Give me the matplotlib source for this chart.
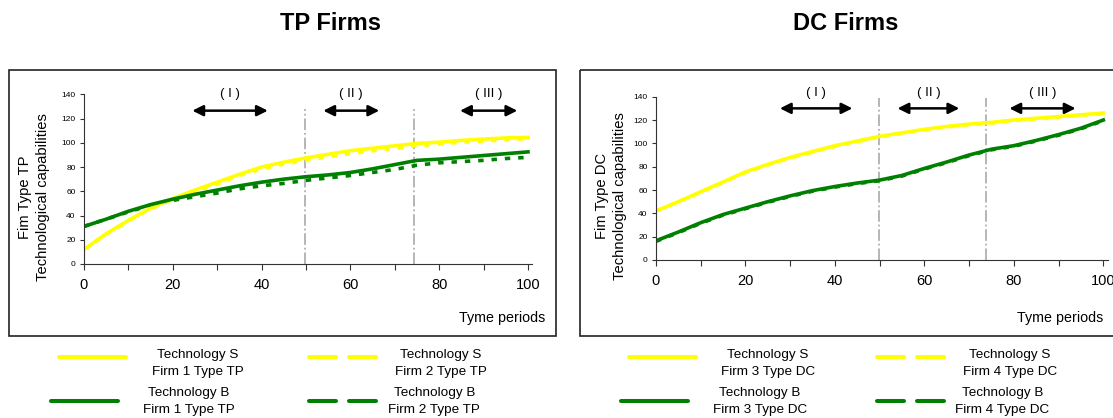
import matplotlib

matplotlib.use("Agg")
import matplotlib.pyplot as plt
from matplotlib.lines import Line2D
from matplotlib.patches import Rectangle

plt.rcParams["font.family"] = ["Liberation Sans", "DejaVu Sans"]

W, H = 1113, 418

# time axis (every 5 periods)
periods = [0, 5, 10, 15, 20, 25, 30, 35, 40, 45, 50, 55, 60, 65, 70, 75, 80, 85, 90, 95, 100]

# TP firms
tp_s_firm1 = [12, 25, 36, 46, 54, 61, 67.5, 74, 80, 84, 87.5, 90.5, 93.5, 95.5, 97.5, 99.5, 100.5, 102, 103, 104, 104.5]
tp_s_firm2 = [12, 24.5, 35.5, 45.5, 53.5, 60, 66, 73, 78.5, 82.5, 85.5, 88.5, 91, 93.5, 95.5, 97.5, 99, 100.5, 101.5, 102.5, 103.5]
tp_b_firm1 = [31, 37, 43.5, 49, 53.5, 57.5, 61, 64.5, 67.5, 70, 72, 73.5, 75.5, 78.5, 82, 85.5, 86.5, 88, 89.5, 91, 92.5]
tp_b_firm2 = [31, 37, 43, 48.5, 52.5, 55.5, 58.5, 62, 64.5, 66.5, 69, 71, 73, 75.5, 78, 81.5, 83.5, 84.5, 85.5, 87, 88]

# DC firms
dc_s_firm3 = [42, 50, 58.5, 67, 75.5, 82, 88, 93, 98, 102, 106, 109, 112, 114.5, 116.5, 118, 120, 121.5, 123, 124.5, 126]
dc_s_firm4 = [42, 50, 58, 66.5, 75, 81.5, 87.5, 92.5, 97.5, 101.5, 105.5, 108.5, 111.5, 114, 116, 117.5, 119.5, 121, 122.5, 124, 125.5]
dc_b_firm3 = [16.5, 24, 32, 39, 44.5, 50, 55, 59.5, 63, 66, 68.5, 72.5, 78.5, 84, 90, 95, 98, 102.5, 107.5, 113, 120]
dc_b_firm4 = [16, 23.5, 31.5, 38.5, 44, 49.5, 54.5, 59, 62.5, 65.5, 68, 72, 78, 83.5, 89.5, 94.5, 97.5, 102, 107, 112.5, 119.5]

# phase boundaries and phase arrows
tp_bounds = [49.8, 74.3]
dc_bounds = [49.8, 73.8]
phase_labels = ["( I )", "( II )", "( III )"]
tp_arrows = [(24.4, 41.4), (53.9, 66.5), (84.7, 97.6)]
dc_arrows = [(27.7, 43.9), (54.0, 67.8), (79.0, 93.8)]

YELLOW = "#FFFF00"
GREEN = "#008000"
GREY = "#B0B0B0"

fig = plt.figure(figsize=(W / 100, H / 100), dpi=100)

# overlay in pixel coordinates for frames, titles and legends
ov = fig.add_axes([0, 0, 1, 1])
ov.set_xlim(0, W)
ov.set_ylim(H, 0)
ov.axis("off")


def add_panel(rect, s1, s2, b1, b2, bounds, vtop, arrows, arrow_y):
    ax = fig.add_axes(rect)
    ax.set_facecolor("none")
    ax.plot(periods, s2, color=YELLOW, lw=2.6, dashes=(1.5, 2.2), solid_capstyle="butt")
    ax.plot(periods, b2, color=GREEN, lw=2.6, dashes=(1.5, 2.2), solid_capstyle="butt")
    ax.plot(periods, s1, color=YELLOW, lw=2.6)
    ax.plot(periods, b1, color=GREEN, lw=2.6)
    for b in bounds:
        ax.plot([b, b], [0, vtop], color=GREY, lw=1.3, ls="-.", zorder=1)
    for (x0, x1), lab in zip(arrows, phase_labels):
        ax.annotate("", xy=(x1, arrow_y), xytext=(x0, arrow_y),
                    arrowprops=dict(arrowstyle="<|-|>", color="black", lw=1.8,
                                    mutation_scale=16, shrinkA=0, shrinkB=0),
                    annotation_clip=False)
        ax.text((x0 + x1) / 2, arrow_y + 13.5, lab, ha="center", va="center",
                fontsize=9.5, clip_on=False)
    ax.set_xlim(0, 101)
    ax.set_ylim(0, 140)
    ax.set_xticks([0, 20, 40, 60, 80, 100])
    ax.set_xticks([10, 30, 50, 70, 90], minor=True)
    ax.set_yticks(range(0, 141, 20))
    ax.tick_params(axis="x", which="both", length=4, width=0.8, direction="out",
                   labelsize=10.5, pad=6, color="#333333")
    ax.tick_params(axis="y", length=3, width=0.8, direction="out",
                   labelsize=6, pad=3, color="#333333")
    for side in ("top", "right"):
        ax.spines[side].set_visible(False)
    for side in ("left", "bottom"):
        ax.spines[side].set_color("#333333")
        ax.spines[side].set_linewidth(0.8)
    return ax


add_panel([84 / W, 1 - 264 / H, 448.4 / W, 169.7 / H],
          tp_s_firm1, tp_s_firm2, tp_b_firm1, tp_b_firm2,
          tp_bounds, 128, tp_arrows, 126.5)
add_panel([656 / W, 1 - 260 / H, 451.8 / W, 163.3 / H],
          dc_s_firm3, dc_s_firm4, dc_b_firm3, dc_b_firm4,
          dc_bounds, 139, dc_arrows, 130)

# frames
ov.add_patch(Rectangle((9, 70), 546.5, 265.5, fill=False, ec="#222222", lw=1.2))
ov.add_patch(Rectangle((580, 70), 560, 265.5, fill=False, ec="#222222", lw=1.2))

# titles
ov.text(330, 24, "TP Firms", ha="center", va="center", fontsize=17, fontweight="bold")
ov.text(845.5, 24, "DC Firms", ha="center", va="center", fontsize=17, fontweight="bold")

# y labels
ov.text(34, 197, "Fim Type TP\nTechnological capabilities", rotation=90,
        ha="center", va="center", multialignment="center", fontsize=10.6, linespacing=1.3)
ov.text(611, 196, "Fim Type DC\nTechnological capabilities", rotation=90,
        ha="center", va="center", multialignment="center", fontsize=10.6, linespacing=1.3)

# x labels
ov.text(545, 318, "Tyme periods", ha="right", va="center", fontsize=10.3)
ov.text(1103, 318, "Tyme periods", ha="right", va="center", fontsize=10.3)


def legend_entry(x, y, color, dashed, tx, line1, line2, ty):
    if dashed:
        segs = [(x, x + 27), (x + 40, x + 67)]
    else:
        segs = [(x, x + 67)]
    for a, b in segs:
        ov.add_line(Line2D([a, b], [y, y], color=color, lw=2.9, solid_capstyle="round"))
    ov.text(tx, ty, line1, ha="center", va="center", fontsize=9.7)
    ov.text(tx, ty + 17, line2, ha="center", va="center", fontsize=9.7)


legend_entry(59, 357, YELLOW, False, 197.5, "Technology S", "Firm 1 Type TP", 355)
legend_entry(51, 401, GREEN, False, 189, "Technology B", "Firm 1 Type TP", 393.3)
legend_entry(309, 357, YELLOW, True, 441, "Technology S", "Firm 2 Type TP", 355)
legend_entry(309, 401, GREEN, True, 434.3, "Technology B", "Firm 2 Type TP", 393.3)

legend_entry(629, 357, YELLOW, False, 768, "Technology S", "Firm 3 Type DC", 355)
legend_entry(620.5, 401, GREEN, False, 760, "Technology B", "Firm 3 Type DC", 393.3)
legend_entry(877, 357, YELLOW, True, 1010, "Technology S", "Firm 4 Type DC", 355)
legend_entry(877, 401, GREEN, True, 1002.5, "Technology B", "Firm 4 Type DC", 393.3)

fig.savefig("out.png", dpi=100)
